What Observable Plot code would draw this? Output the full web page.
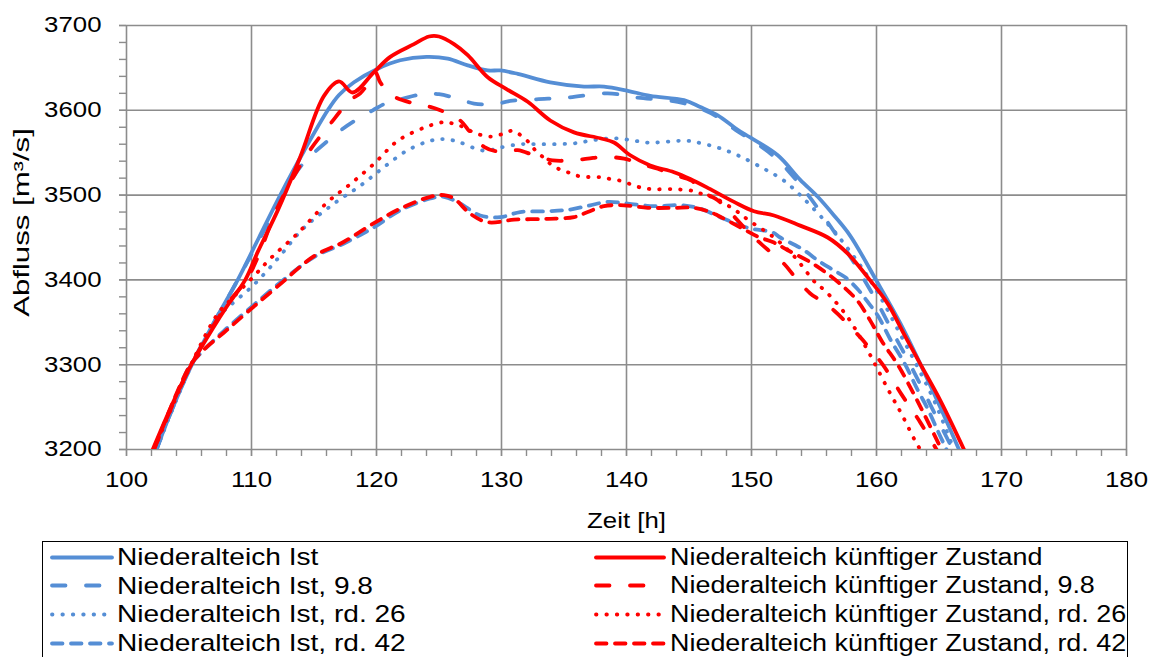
<!DOCTYPE html>
<html>
<head>
<meta charset="utf-8">
<script src="https://cdn.jsdelivr.net/npm/d3@7"></script>
<script src="https://cdn.jsdelivr.net/npm/@observablehq/plot@0.6"></script>
<style>
  body { margin: 0; background: #fff; font-family: "Liberation Sans", Arial, sans-serif; }
  #chart { position: relative; width: 1155px; height: 657px; overflow: hidden; background: #fff; }
  #chart > svg { position: absolute; left: 0; top: 0; }
  #legend { position: absolute; left: 42px; top: 541px; width: 1086px; height: 140px;
            border: 1.5px solid #000; box-sizing: border-box; background: #fff; }
  #legend .item { position: absolute; height: 29px; display: flex; align-items: center; }
  #legend .item svg { position: static; flex: none; display: block; }
  #legend .item span { display: inline-block; font-size: 23.5px; color: #000; white-space: nowrap;
               transform: scaleX(1.17); transform-origin: left center; }
</style>
</head>
<body>
<div id="chart"></div>
<script>
// Abfluss hydrographs at Niederalteich, [Zeit h, Abfluss m³/s]
const ist = [[102.4,3200],[103.5,3242],[105,3293],[107,3350],[108.9,3400],[110.6,3450],[112.3,3500],[114.2,3552],[116.1,3600],[117,3618],[118.2,3633],[120.1,3649],[121.9,3659],[124,3663],[125.7,3661],[127.3,3653],[128.9,3647],[129.9,3647],[131.3,3643],[133.9,3633],[136.6,3628],[138.2,3628],[140.1,3623],[141.9,3617],[144.6,3612],[145.9,3604],[147.3,3594],[148.9,3577],[149.9,3568],[152.1,3547],[153.9,3518],[155.3,3498],[156.6,3476],[157.9,3452],[160,3399],[161.9,3349],[163.5,3301],[165.1,3250],[166.6,3200]];
const ist98 = [[102.4,3200],[105,3294],[108.9,3400],[110.6,3447],[112.3,3494],[114,3535],[116.1,3564],[117.1,3576],[118.3,3588],[119.7,3600],[121,3610],[121.9,3613],[123.7,3619],[125,3619],[126.4,3614],[127.8,3608],[129.4,3607],[130.7,3611],[132.8,3613],[135.3,3615],[138.5,3620],[140.9,3615],[144.1,3610],[145.9,3602],[147.3,3592],[148.9,3575],[150,3565],[152,3543],[154,3510],[156,3470],[158,3425],[160,3375],[161.5,3333],[162.7,3300],[164.4,3250],[166.1,3200]];
const ist26 = [[102.4,3200],[105,3293],[107.3,3356],[108.3,3370],[110.1,3393],[112.1,3425],[114.1,3460],[116.6,3490],[118.7,3511],[120.6,3533],[122.5,3553],[124.3,3564],[125.5,3566],[126.7,3562],[128.3,3553],[129.1,3553],[129.9,3556],[131.5,3560],[133.2,3560],[135.8,3561],[137.4,3565],[139.1,3567],[140.7,3564],[141.6,3562],[142.4,3562],[144.1,3564],[144.9,3564],[145.7,3562],[147.3,3556],[148.9,3547],[151,3531],[152.6,3517],[154.3,3494],[156.1,3466],[156.7,3456],[158.8,3415],[160.3,3380],[161.9,3336],[163.3,3297],[164.6,3258],[166.2,3200]];
const ist42 = [[102.4,3200],[105,3297],[105.9,3313],[107.8,3340],[109.9,3367],[112.3,3397],[115,3427],[117.4,3443],[119.8,3462],[121.9,3482],[124.3,3496],[125.4,3498],[126.7,3490],[128.3,3476],[129.9,3474],[131.5,3480],[133.7,3481],[135.5,3483],[137.1,3488],[138.5,3492],[140.1,3490],[142.2,3487],[144.3,3488],[145.9,3484],[147.8,3472],[149.8,3461],[151.7,3456],[152.3,3450],[154.1,3436],[155.4,3422],[156.5,3412],[157.5,3403],[158.5,3389],[159.3,3374],[160.1,3358],[161.1,3330],[162.3,3300],[163.3,3270],[164.1,3248],[164.9,3222],[165.6,3200]];
const kz = [[102.1,3200],[103.5,3248],[105,3295],[107,3345],[108,3368],[109.5,3400],[110.5,3433],[112.1,3482],[113.9,3545],[115.8,3617],[117,3634],[118.1,3621],[119.8,3645],[121.1,3663],[123,3678],[124.2,3687],[125,3687],[126.2,3678],[127.3,3665],[128.9,3639],[130.4,3625],[132.1,3610],[133.9,3588],[135.8,3574],[137.9,3567],[139,3562],[140.3,3547],[141.9,3535],[143.8,3527],[145.1,3519],[146.7,3507],[148.6,3492],[150.2,3481],[151.8,3476],[153.9,3464],[156.1,3450],[157.7,3431],[159.3,3403],[160.9,3372],[162.2,3336],[163.5,3301],[165.1,3258],[167,3200]];
const kz98 = [[102.2,3200],[105,3295],[108,3370],[109.6,3400],[110.6,3430],[112.1,3486],[114.5,3549],[116.3,3584],[117.9,3612],[118.7,3620],[119.3,3631],[119.9,3645],[120.3,3633],[121.3,3617],[123,3608],[124.3,3604],[125.1,3600],[126.7,3588],[127.5,3574],[128.6,3557],[129.9,3551],[131.3,3553],[132.6,3547],[134.1,3541],[135.6,3541],[136.9,3543],[138.2,3545],[139.8,3543],[141.1,3537],[142.5,3531],[143.8,3524],[145.2,3517],[146.2,3503],[147.3,3494],[148.4,3478],[149.4,3462],[150.5,3446],[151.5,3433],[152.6,3419],[153.5,3403],[154.7,3384],[155.5,3376],[156.6,3364],[157.7,3348],[158.9,3329],[160.5,3300],[162,3265],[163.5,3232],[164.8,3200]];
const kz26 = [[102.2,3200],[105,3295],[107.3,3360],[108.3,3376],[110.1,3403],[111.5,3425],[113.7,3455],[116.1,3492],[117.9,3513],[119.8,3537],[121.7,3564],[123.9,3580],[125.4,3586],[126.2,3584],[127,3580],[127.9,3573],[129.1,3569],[130.1,3572],[130.9,3576],[131.5,3571],[132.2,3562],[132.7,3553],[133.3,3545],[133.9,3537],[134.7,3530],[135.5,3526],[136.3,3522],[137.9,3521],[138.7,3519],[139.5,3517],[140.3,3513],[141.1,3509],[142,3507],[143.7,3507],[145.3,3505],[146.1,3501],[147,3497],[148.3,3486],[149.1,3478],[149.8,3470],[151.8,3450],[153.4,3428],[155.1,3397],[155.9,3387],[157.5,3360],[159.1,3322],[159.9,3300],[161.1,3266],[162,3242],[163.1,3210],[163.5,3200]];
const kz42 = [[102.2,3200],[105,3297],[106,3315],[107.8,3338],[109.9,3365],[112.3,3395],[115,3428],[117.4,3445],[119.8,3467],[121.9,3484],[124.3,3498],[125.4,3500],[126.2,3496],[127.5,3478],[128.9,3468],[131,3471],[133.7,3472],[135.8,3474],[136.9,3480],[138.2,3487],[139.8,3488],[141.7,3485],[143.8,3485],[145.4,3485],[146.7,3480],[147.3,3476],[149.1,3462],[150.5,3451],[151.8,3444],[152.9,3435],[154.7,3421],[156.1,3407],[157.5,3390],[158.5,3375],[159.5,3352],[160.5,3326],[161.7,3300],[163,3265],[164,3236],[165.2,3200]];

// Series labels, in legend order (left column, then right column)
const names = [
  "Niederalteich Ist", "Niederalteich Ist, 9.8", "Niederalteich Ist, rd. 26", "Niederalteich Ist, rd. 42",
  "Niederalteich künftiger Zustand", "Niederalteich künftiger Zustand, 9.8",
  "Niederalteich künftiger Zustand, rd. 26", "Niederalteich künftiger Zustand, rd. 42"
];
const seriesData = [ist, ist98, ist26, ist42, kz, kz98, kz26, kz42];

// Axis ticks
const xTicks = [100, 110, 120, 130, 140, 150, 160, 170, 180];
const yTicks = [3200, 3300, 3400, 3500, 3600, 3700];
const xMinor = d3.range(100, 181, 2);
const yMinor = d3.range(3200, 3701, 20);

const BLUE = "#558ed5", RED = "#ff0000", GRID = "#8c8c8c";
// line styles: solid, long dash, round dot, short dash
const dashes = [null, "13.5,20.5", "0.5,9.9", "10.5,8.5"];
const styleOf = i => ({
  stroke: i < 4 ? BLUE : RED,
  dash: dashes[i % 4]
});

const lineMarks = seriesData.map((d, i) => {
  const s = styleOf(i);
  return Plot.line(d, {
    x: p => p[0], y: p => p[1],
    stroke: s.stroke, strokeWidth: 3.8,
    strokeDasharray: s.dash ?? undefined,
    strokeLinecap: "round", strokeLinejoin: "round",
    curve: "catmull-rom", clip: true
  });
});

const plot = Plot.plot({
  width: 1155,
  height: 540,
  marginLeft: 126,
  marginRight: 29,
  marginTop: 25,
  marginBottom: 91,
  style: { fontFamily: "'Liberation Sans', Arial, sans-serif", fontSize: "21.5px", color: "#000", background: "transparent", overflow: "visible" },
  x: { domain: [100, 180] },
  y: { domain: [3200, 3700] },
  marks: [
    Plot.gridX(xTicks, { stroke: GRID, strokeOpacity: 1, strokeWidth: 1.6 }),
    Plot.gridY(yTicks, { stroke: GRID, strokeOpacity: 1, strokeWidth: 1.6 }),
    ...lineMarks,
    Plot.axisX(xMinor, { tickSize: 7, tickFormat: () => "", stroke: GRID, strokeWidth: 1.4, label: null }),
    Plot.axisY(yMinor, { tickSize: 7, tickFormat: () => "", stroke: GRID, strokeWidth: 1.4, label: null }),
    Plot.axisX(xTicks, { tickSize: 7, tickPadding: 15, stroke: GRID, strokeWidth: 1.4, label: null, tickFormat: d => String(d) }),
    Plot.axisY(yTicks, { tickSize: 7, tickPadding: 18, stroke: GRID, strokeWidth: 1.4, label: null, tickFormat: d => String(d) }),
    Plot.text(["Zeit [h]"], { text: d => d, frameAnchor: "bottom", dy: 78, fontSize: 21.5 }),
    Plot.text(["Abfluss [m³/s]"], { text: d => d, frameAnchor: "left", textAnchor: "middle", dx: -104, dy: -15, rotate: -90, fontSize: 21.5 })
  ]
});

const chart = document.getElementById("chart");
chart.appendChild(plot);

// Labels are set wide: stretch horizontal labels around their anchor,
// and lengthen the rotated axis title along its baseline
plot.querySelectorAll("text").forEach(t => {
  const tr = t.getAttribute("transform") || "";
  if (tr.includes("rotate")) {
    t.setAttribute("transform", `${tr} scale(1.45,1)`);
    return;
  }
  const x = parseFloat(t.getAttribute("x")) || 0;
  t.setAttribute("transform", `${tr} translate(${x},0) scale(1.2,1) translate(${-x},0)`);
});

// Legend box, two columns of four entries
const legend = document.createElement("div");
legend.id = "legend";
chart.appendChild(legend);
const ns = "http://www.w3.org/2000/svg";
names.forEach((name, i) => {
  const col = Math.floor(i / 4), row = i % 4;
  const s = styleOf(i);
  const w = col === 0 ? 66 : 74;
  const item = document.createElement("div");
  item.className = "item";
  item.style.left = (col === 0 ? 6 : 550) + "px";
  item.style.top = (0.5 + row * 28.7) + "px";
  const sv = document.createElementNS(ns, "svg");
  sv.setAttribute("width", w);
  sv.setAttribute("height", 29);
  const ln = document.createElementNS(ns, "line");
  ln.setAttribute("x1", 3); ln.setAttribute("x2", w - 3);
  ln.setAttribute("y1", 14.5); ln.setAttribute("y2", 14.5);
  ln.setAttribute("stroke", s.stroke);
  ln.setAttribute("stroke-width", 3.8);
  ln.setAttribute("stroke-linecap", "round");
  if (s.dash) ln.setAttribute("stroke-dasharray", s.dash);
  sv.appendChild(ln);
  const sp = document.createElement("span");
  sp.textContent = name;
  sp.style.marginLeft = (col === 0 ? 2 : 3) + "px";
  sp.style.fontSize = (col === 0 ? 24 : 23) + "px";
  item.appendChild(sv);
  item.appendChild(sp);
  legend.appendChild(item);
});
</script>
</body>
</html>
